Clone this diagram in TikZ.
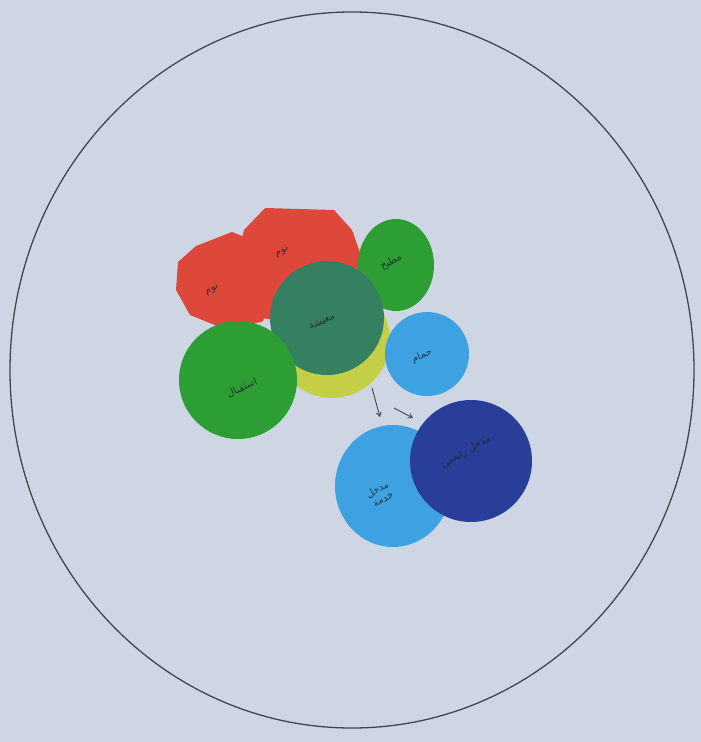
\documentclass[tikz,border=0pt]{standalone}
\usepackage{fontspec}
\newfontfamily\arabicfont[Script=Arabic]{DejaVu Sans}
\TeXXeTstate=1
\usetikzlibrary{arrows.meta,shapes.geometric}
\definecolor{paper}{RGB}{206,214,228}
\definecolor{redp}{RGB}{222,72,58}
\definecolor{dgreen}{RGB}{52,128,96}
\definecolor{greenp}{RGB}{44,158,52}
\definecolor{lblue}{RGB}{62,162,226}
\definecolor{dblue}{RGB}{40,62,152}
\definecolor{yellowp}{RGB}{196,206,70}
\definecolor{ink}{RGB}{30,40,45}
\tikzset{
  bubble/.style={circle, inner sep=0pt, draw=none},
  lbl/.style={text=ink, opacity=0.85, font=\arabicfont\fontsize{10}{11}\selectfont, align=center},
  pencil/.style={draw=ink!85, line width=1.3pt},
  arr/.style={draw=ink!85, line width=0.9pt, -{Straight Barb[length=4pt,width=5pt]}}
}
\begin{document}
\begin{tikzpicture}[x=1pt,y=-1pt]
\fill[paper] (0,0) rectangle (701,742);
\useasboundingbox (0,0) rectangle (701,742);
% outer boundary
\node[ellipse, pencil, minimum width=684pt, minimum height=716pt, inner sep=0pt] (site) at (352,370) {};
% red paper bubbles (cut polygons)
\fill[redp] (265,208) -- (334,210) -- (352,230) -- (362,258) -- (360,290) -- (345,315) -- (300,325) -- (262,318) -- (240,295) -- (236,262) -- (244,230) -- cycle;
\coordinate (redbig) at (298,262);
\fill[redp] (196,246) -- (232,232) -- (258,242) -- (274,268) -- (276,300) -- (262,322) -- (222,328) -- (190,315) -- (176,290) -- (178,262) -- cycle;
\coordinate (redleft) at (225,282);
% yellow under dark green
\node[bubble, fill=yellowp, minimum size=116pt] (yel) at (332,340) {};
% green top right
\node[ellipse, inner sep=0pt, fill=greenp, minimum width=76pt, minimum height=92pt] (gtr) at (396,265) {};
% dark green centre
\node[bubble, fill=dgreen, minimum size=114pt] (dg) at (327,318) {};
% green bottom left
\node[bubble, fill=greenp, minimum size=118pt] (gbl) at (238,380) {};
% light blue right
\node[bubble, fill=lblue, minimum size=84pt] (lbr) at (427,354) {};
% light blue bottom
\node[ellipse, inner sep=0pt, fill=lblue, minimum width=116pt, minimum height=122pt] (lbb) at (393,486) {};
% dark blue
\node[bubble, fill=dblue, minimum size=122pt] (db) at (471,461) {};
% labels
\node[lbl, rotate=30] (t1) at (212,290) {\beginR نوم\endR};
\node[lbl, rotate=30] (t2) at (282,252) {\beginR نوم\endR};
\node[lbl, rotate=25] (t3) at (322,322) {\beginR معيشة\endR};
\node[lbl, rotate=30] (t4) at (391,262) {\beginR مطبخ\endR};
\node[lbl, rotate=25] (t5) at (242,388) {\beginR استقبال\endR};
\node[lbl, rotate=25] (t6) at (422,356) {\beginR حمام\endR};
\node[lbl, rotate=30] (t7) at (380,494) {\beginR مدخل\endR\\\beginR خدمة\endR};
\node[lbl, rotate=30] (t8) at (466,452) {\beginR مدخل رئيسي\endR};
% arrows
\coordinate (a1s) at (372,388);
\coordinate (a1e) at (380,417);
\coordinate (a2s) at (394,408);
\coordinate (a2e) at (413,418);
\draw[arr] (a1s) -- (a1e);
\draw[arr] (a2s) -- (a2e);
\end{tikzpicture}
\end{document}
